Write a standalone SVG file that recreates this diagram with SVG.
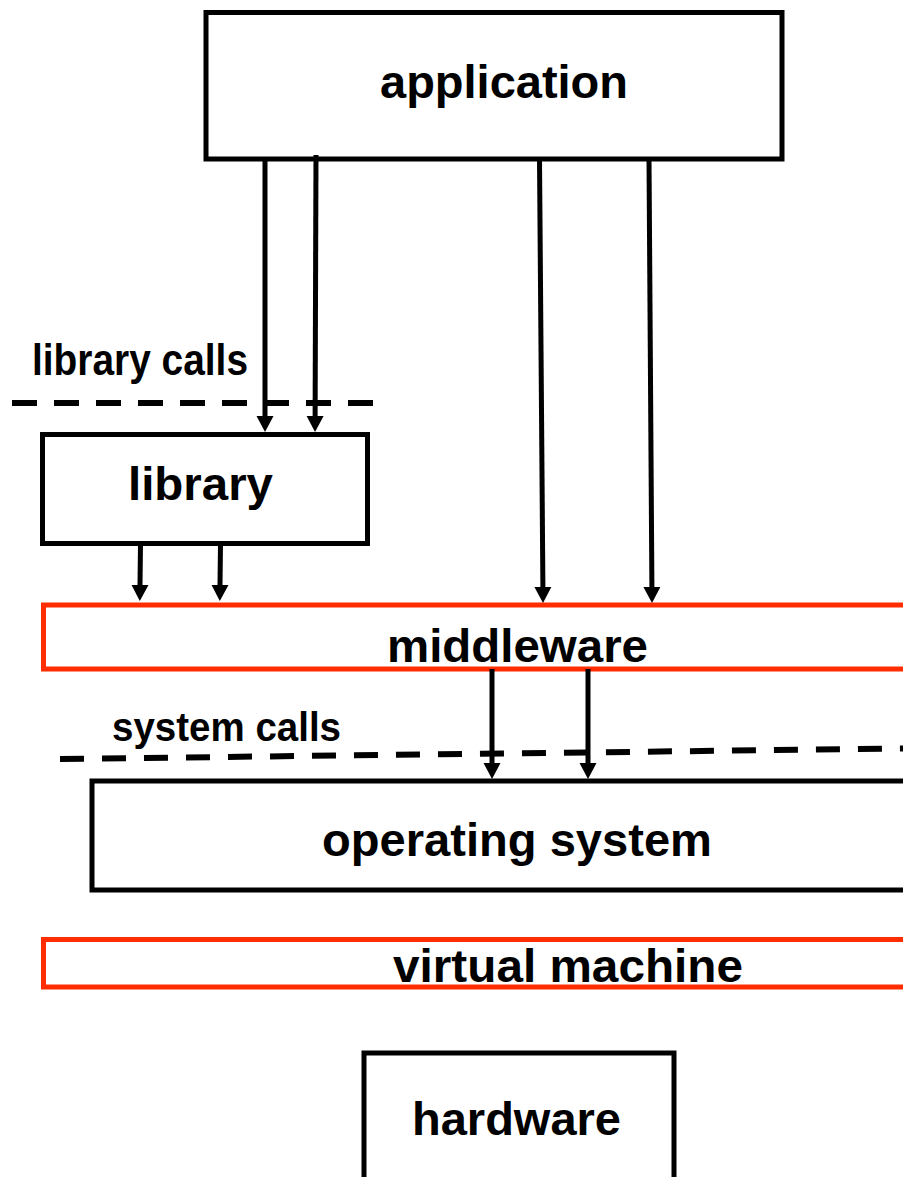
<svg xmlns="http://www.w3.org/2000/svg" width="903" height="1177" viewBox="0 0 903 1177">
<style>
  .box { fill: #ffffff; stroke: #000000; stroke-width: 5; }
  .red { fill: #ffffff; stroke: #ff2d00; stroke-width: 5; }
  .lbl { font-family: "Liberation Sans", Arial, Helvetica, sans-serif; font-weight: bold; font-size: 47px; fill: #000000; }
  .cap { font-family: "Liberation Sans", Arial, Helvetica, sans-serif; font-weight: bold; fill: #000000; }
  .arr { stroke: #000000; stroke-width: 5; fill: none; marker-end: url(#ah); }
  .dash { stroke: #000000; stroke-width: 6; fill: none; }
</style>
<defs>
  <marker id="ah" markerUnits="userSpaceOnUse" viewBox="0 -9 16 18" refX="0" refY="0" markerWidth="16" markerHeight="18" orient="auto">
    <path d="M0,-8.5 L16,0 L0,8.5 z" fill="#000000"/>
  </marker>
</defs>
<rect width="903" height="1177" fill="#ffffff"/>

<g id="application">
  <rect class="box" x="206" y="12.5" width="576" height="146.5"/>
  <text class="lbl" x="380" y="98" textLength="248" lengthAdjust="spacingAndGlyphs">application</text>
</g>

<g id="library-calls-boundary">
  <line class="dash" x1="12" y1="403" x2="373" y2="403" stroke-dasharray="25 17"/>
  <text class="cap" x="32" y="375" font-size="44" textLength="216" lengthAdjust="spacingAndGlyphs">library calls</text>
</g>

<g id="library">
  <rect class="box" x="42.5" y="434.5" width="325" height="109"/>
  <text class="lbl" x="128" y="500" textLength="145" lengthAdjust="spacingAndGlyphs">library</text>
</g>

<g id="middleware">
  <rect class="red" x="43.5" y="605" width="880" height="64"/>
  <text class="lbl" x="387" y="662" textLength="261" lengthAdjust="spacingAndGlyphs">middleware</text>
</g>

<g id="system-calls-boundary">
  <line class="dash" x1="60" y1="759" x2="910" y2="748.4" stroke-dasharray="24 18"/>
  <text class="cap" x="112" y="741" font-size="41" textLength="229" lengthAdjust="spacingAndGlyphs">system calls</text>
</g>

<g id="operating-system">
  <rect class="box" x="92" y="781" width="830" height="109"/>
  <text class="lbl" x="322" y="856" textLength="390" lengthAdjust="spacingAndGlyphs">operating system</text>
</g>

<g id="virtual-machine">
  <rect class="red" x="43.5" y="939.5" width="880" height="47.5"/>
  <text class="lbl" x="393" y="982" textLength="350" lengthAdjust="spacingAndGlyphs">virtual machine</text>
</g>

<g id="hardware">
  <rect class="box" x="364" y="1053" width="310" height="200"/>
  <text class="lbl" x="412" y="1135" textLength="209" lengthAdjust="spacingAndGlyphs">hardware</text>
</g>

<g id="connectors">
  <line class="arr" x1="265" y1="159" x2="265" y2="416"/>
  <line class="arr" x1="316" y1="155" x2="315.1" y2="416"/>
  <line class="arr" x1="539.5" y1="159" x2="542.9" y2="587"/>
  <line class="arr" x1="649" y1="159" x2="651.9" y2="587"/>
  <line class="arr" x1="140.5" y1="543" x2="140" y2="585"/>
  <line class="arr" x1="220.5" y1="543" x2="220" y2="585"/>
  <line class="arr" x1="492" y1="669" x2="492" y2="763"/>
  <line class="arr" x1="588" y1="669" x2="588" y2="763"/>
</g>
</svg>
